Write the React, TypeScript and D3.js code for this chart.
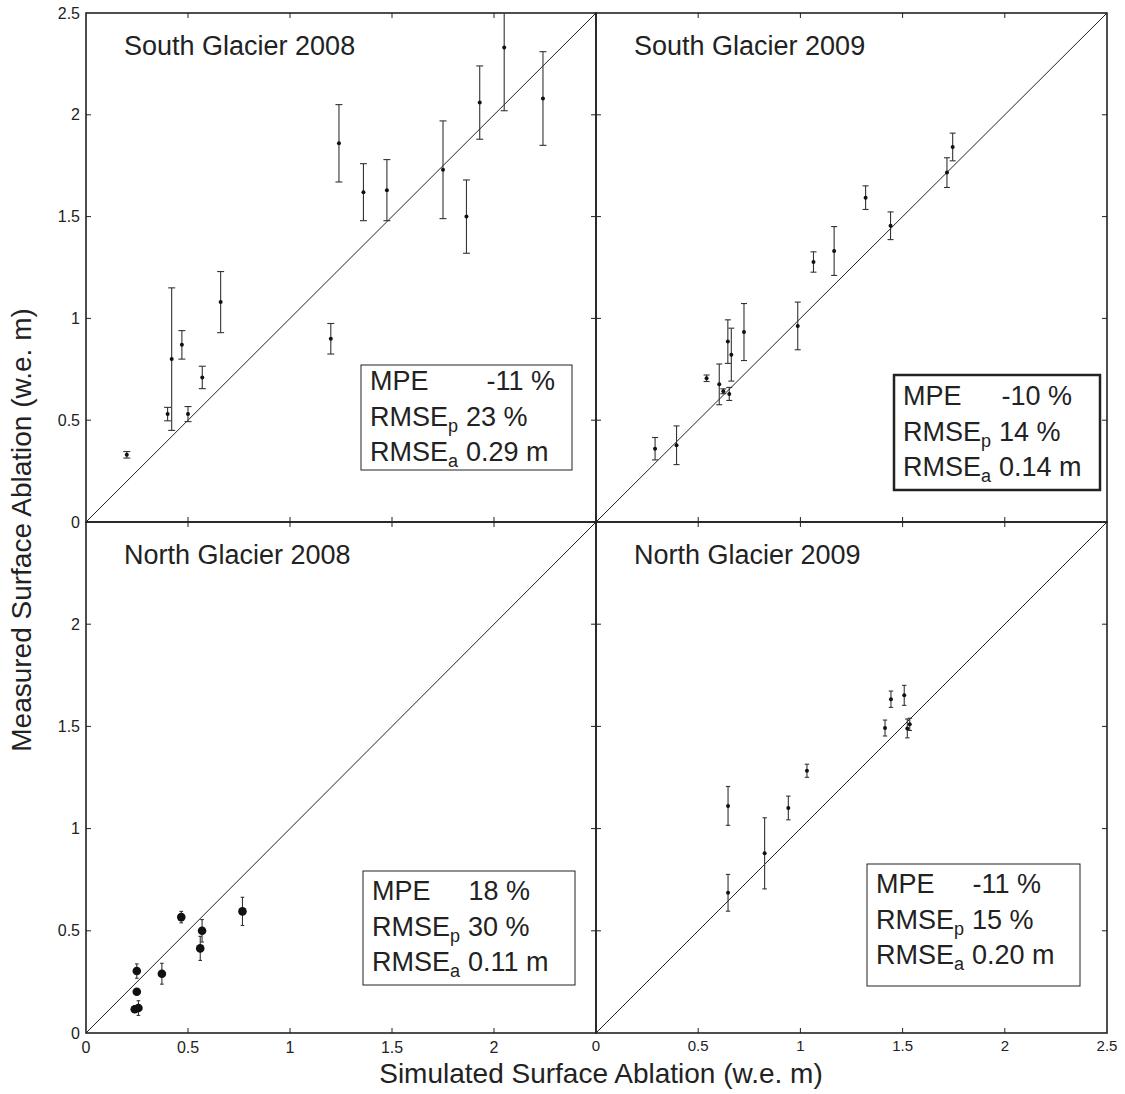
import React from "react";
import * as d3 from "d3";

// South Glacier 2008
const sg08Sim = [0.2, 0.4, 0.42, 0.47, 0.5, 0.57, 0.66, 1.2, 1.24, 1.36, 1.475, 1.75, 1.865, 1.93, 2.05, 2.24];
const sg08Meas = [0.33, 0.53, 0.8, 0.87, 0.53, 0.71, 1.08, 0.9, 1.86, 1.62, 1.63, 1.73, 1.5, 2.06, 2.33, 2.08];
const sg08Err = [0.016, 0.033, 0.35, 0.07, 0.037, 0.055, 0.15, 0.075, 0.19, 0.14, 0.15, 0.24, 0.18, 0.18, 0.31, 0.23];

// South Glacier 2009
const sg09Sim = [0.289, 0.394, 0.541, 0.603, 0.623, 0.645, 0.652, 0.662, 0.724, 0.987, 1.064, 1.165, 1.319, 1.441, 1.717, 1.745];
const sg09Meas = [0.36, 0.377, 0.706, 0.676, 0.642, 0.886, 0.629, 0.822, 0.933, 0.963, 1.277, 1.331, 1.593, 1.455, 1.716, 1.842];
const sg09Err = [0.055, 0.095, 0.016, 0.1, 0.012, 0.107, 0.032, 0.13, 0.14, 0.117, 0.05, 0.12, 0.058, 0.068, 0.073, 0.068];

// North Glacier 2008
const ng08Sim = [0.249, 0.249, 0.239, 0.257, 0.372, 0.467, 0.569, 0.56, 0.767];
const ng08Meas = [0.303, 0.202, 0.116, 0.122, 0.29, 0.567, 0.5, 0.414, 0.595];
const ng08Err = [0.035, 0, 0.015, 0.036, 0.051, 0.028, 0.055, 0.059, 0.069];

// North Glacier 2009
const ng09Sim = [0.646, 0.646, 0.825, 0.941, 1.032, 1.414, 1.443, 1.508, 1.523, 1.535];
const ng09Meas = [1.111, 0.686, 0.879, 1.101, 1.283, 1.492, 1.633, 1.652, 1.49, 1.51];
const ng09Err = [0.095, 0.09, 0.174, 0.058, 0.032, 0.039, 0.04, 0.049, 0.046, 0.03];

const titles = ["South Glacier 2008", "South Glacier 2009", "North Glacier 2008", "North Glacier 2009"];
const mpeVals = ["-11 %", "-10 %", "18 %", "-11 %"];
const rmsePVals = ["23 %", "14 %", "30 %", "15 %"];
const rmseAVals = ["0.29 m", "0.14 m", "0.11 m", "0.20 m"];
const ticks = [0, 0.5, 1, 1.5, 2, 2.5];

const FONT = "Helvetica, Arial, 'Liberation Sans', sans-serif";
const INK = "#222";

const X0 = 86, XM = 596, X1 = 1107;
const Y0 = 13, YM = 522, Y1 = 1033;

const panels = [
  { sim: sg08Sim, meas: sg08Meas, err: sg08Err, x: [X0, XM], y: [YM, Y0], r: 2, cap: 3.5,
    box: { x: 361, y: 365, w: 211, h: 105, b: 25, gap: 58, sw: 1 }, yLab: true, xLab: false },
  { sim: sg09Sim, meas: sg09Meas, err: sg09Err, x: [XM, X1], y: [YM, Y0], r: 2, cap: 3,
    box: { x: 894, y: 375, w: 206, h: 115, b: 30, gap: 40, sw: 2.5 }, yLab: false, xLab: false },
  { sim: ng08Sim, meas: ng08Meas, err: ng08Err, x: [X0, XM], y: [Y1, YM], r: 4.3, cap: 1.8,
    box: { x: 363, y: 871, w: 212, h: 114, b: 29, gap: 38, sw: 1 }, yLab: true, xLab: true },
  { sim: ng09Sim, meas: ng09Meas, err: ng09Err, x: [XM, X1], y: [Y1, YM], r: 2, cap: 2.2,
    box: { x: 867, y: 864, w: 213, h: 122, b: 29, gap: 38, sw: 1 }, yLab: false, xLab: true },
];

function Panel({ p, i }: { p: any; i: number }) {
  const xs = d3.scaleLinear().domain([0, 2.5]).range(p.x);
  const ys = d3.scaleLinear().domain([0, 2.5]).range(p.y);
  const bx = p.box;
  const top = ys(2.5), bot = ys(0), left = xs(0), right = xs(2.5);
  const isRight = i % 2 === 1;
  const isBottom = i >= 2;
  const yTickLabels = p.yLab ? (isBottom ? ticks.slice(0, 5) : ticks) : [];
  const xTickLabels = p.xLab ? (isRight ? ticks : ticks.slice(0, 5)) : [];
  const fs = 27;
  return (
    <g>
      <rect x={left} y={top} width={right - left} height={bot - top} fill="none" stroke={INK} strokeWidth={1.6} />
      {ticks.slice(1, 5).map((t) => (
        <g key={"t" + t} stroke={INK} strokeWidth={1}>
          <line x1={xs(t)} x2={xs(t)} y1={bot} y2={bot - 5} />
          <line x1={xs(t)} x2={xs(t)} y1={top} y2={top + 5} />
          <line x1={left} x2={left + 5} y1={ys(t)} y2={ys(t)} />
          <line x1={right} x2={right - 5} y1={ys(t)} y2={ys(t)} />
        </g>
      ))}
      {yTickLabels.map((t) => (
        <text key={"yl" + t} x={left - 6} y={ys(t) + 5.5} textAnchor="end" fontSize={16} fontFamily={FONT} fill={INK}>
          {t}
        </text>
      ))}
      {xTickLabels.map((t) => (
        <text key={"xl" + t} x={xs(t)} y={isRight ? 1051 : 1053} textAnchor="middle" fontSize={isRight ? 15 : 16} fontFamily={FONT} fill={INK}>
          {t}
        </text>
      ))}
      <line x1={xs(0)} y1={ys(0)} x2={xs(2.5)} y2={ys(2.5)} stroke={INK} strokeWidth={1} />
      {p.sim.map((s: number, k: number) => {
        const m = p.meas[k];
        const e = p.err[k];
        const yt = ys(Math.min(2.5, m + e));
        const yb = ys(m - e);
        return (
          <g key={k}>
            {e > 0 && (
              <g stroke="#333" strokeWidth={1.1}>
                <line x1={xs(s)} x2={xs(s)} y1={yt} y2={yb} />
                {m + e <= 2.5 && <line x1={xs(s) - p.cap} x2={xs(s) + p.cap} y1={yt} y2={yt} />}
                <line x1={xs(s) - p.cap} x2={xs(s) + p.cap} y1={yb} y2={yb} />
              </g>
            )}
            <circle cx={xs(s)} cy={ys(m)} r={p.r} fill="#111" />
          </g>
        );
      })}
      <text x={left + 38} y={top + 42} fontSize={27} fontFamily={FONT} fill={INK}>
        {titles[i]}
      </text>
      <rect x={bx.x} y={bx.y} width={bx.w} height={bx.h} fill="white" stroke={INK} strokeWidth={bx.sw} />
      <g fontFamily={FONT} fontSize={fs} fill={INK}>
        <text x={bx.x + 9} y={bx.y + bx.b}>
          MPE
          <tspan dx={bx.gap}>{mpeVals[i]}</tspan>
        </text>
        <text x={bx.x + 9} y={bx.y + bx.b + 35.5}>
          RMSE
          <tspan fontSize={18} dy={6}>p</tspan>
          <tspan dy={-6} dx={8}>{rmsePVals[i]}</tspan>
        </text>
        <text x={bx.x + 9} y={bx.y + bx.b + 71}>
          RMSE
          <tspan fontSize={18} dy={6}>a</tspan>
          <tspan dy={-6} dx={8}>{rmseAVals[i]}</tspan>
        </text>
      </g>
    </g>
  );
}

export default function App() {
  return (
    <svg width={1125} height={1094} style={{ position: "absolute", left: 0, top: 0, background: "white" }}>
      <rect width={1125} height={1094} fill="white" />
      {panels.map((p, i) => (
        <Panel key={i} p={p} i={i} />
      ))}
      <text x={601} y={1083} textAnchor="middle" fontSize={28} fontFamily={FONT} fill={INK}>
        Simulated Surface Ablation (w.e. m)
      </text>
      <text transform="translate(31,530) rotate(-90)" textAnchor="middle" fontSize={28} fontFamily={FONT} fill={INK}>
        Measured Surface Ablation (w.e. m)
      </text>
    </svg>
  );
}
